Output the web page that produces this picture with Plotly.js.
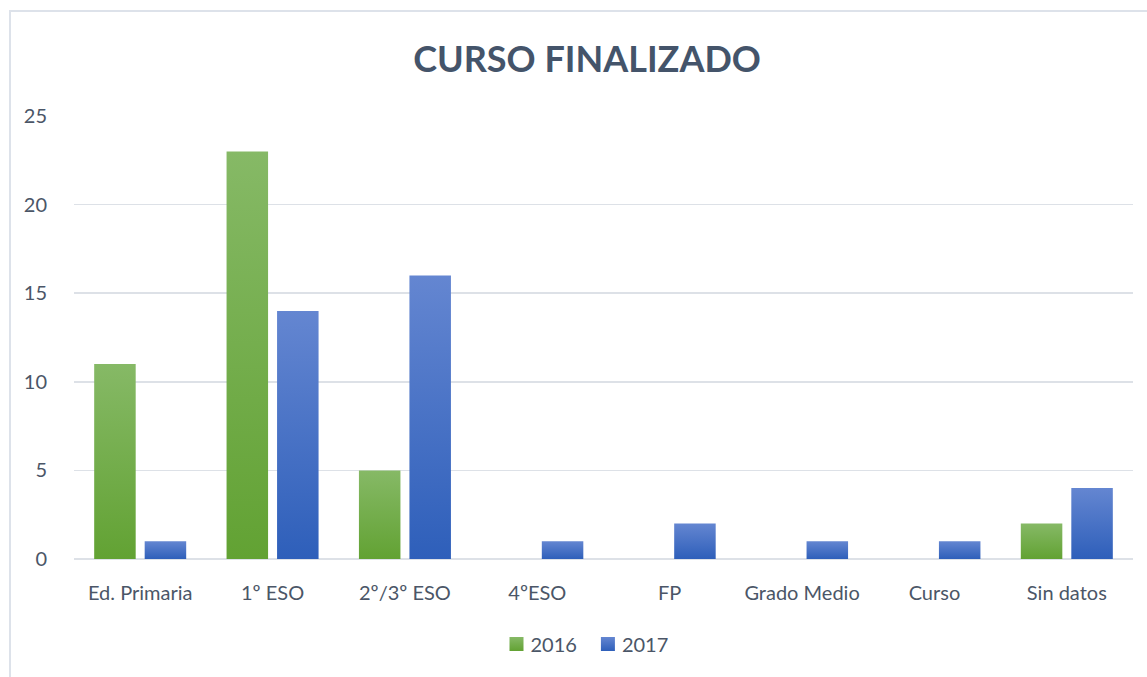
<!DOCTYPE html>
<html>
<head>
<meta charset="utf-8">
<script src="https://cdn.plot.ly/plotly-3.0.1.min.js"></script>
<style>
html,body{margin:0;padding:0;background:#fff;}
#chart{width:1147px;height:677px;}
</style>
</head>
<body>
<div id="chart"></div>
<script>
const categories = ["Ed. Primaria", "1º ESO", "2º/3º ESO", "4ºESO", "FP", "Grado Medio", "Curso", "Sin datos"];
const values2016 = [11, 23, 5, 0, 0, 0, 0, 2];
const values2017 = [1, 14, 16, 1, 2, 1, 1, 4];
const seriesNames = ["2016", "2017"];
const yTicks = [0, 5, 10, 15, 20, 25];

const W = 1147, H = 677;
const L = 74, R = 14, T = 116, B = 118;
const pw = W - L - R, ph = H - T - B;
const px = x => (x - L) / pw;
const py = y => (H - B - y) / ph;

const labelFont = {family: "Lato, Open Sans, sans-serif", size: 20, color: "#4B5667"};

const traces = [
  {type: "bar", name: seriesNames[0], x: categories, y: values2016, marker: {color: "#70AD47"}, hoverinfo: "x+y"},
  {type: "bar", name: seriesNames[1], x: categories, y: values2017, marker: {color: "#4472C4"}, hoverinfo: "x+y"}
];

const layout = {
  width: W, height: H,
  margin: {l: L, r: R, t: T, b: B, pad: 0},
  paper_bgcolor: "#ffffff",
  plot_bgcolor: "#ffffff",
  barmode: "group",
  bargap: 0.237,
  bargroupgap: 0.178,
  title: {
    text: "<b>CURSO FINALIZADO</b>",
    font: {family: "Lato, Open Sans, sans-serif", size: 36, color: "#44546A"},
    x: (587 - L) / pw, xanchor: "center", xref: "paper",
    y: 1 - 59 / H, yanchor: "middle"
  },
  xaxis: {
    type: "category",
    showgrid: false,
    showline: false,
    zeroline: false,
    ticks: "outside", ticklen: 16, tickcolor: "rgba(0,0,0,0)",
    tickfont: labelFont,
    fixedrange: true
  },
  yaxis: {
    range: [0, 25],
    tickvals: yTicks,
    ticktext: yTicks.map(String),
    showgrid: true,
    gridcolor: "#DDE1E7",
    gridwidth: 1.5,
    zeroline: true,
    zerolinecolor: "#DDE1E7",
    zerolinewidth: 1.5,
    showline: false,
    ticks: "outside", ticklen: 22, tickcolor: "rgba(0,0,0,0)",
    tickfont: labelFont,
    fixedrange: true
  },
  legend: {
    orientation: "h",
    x: px(588), xanchor: "center",
    y: py(644), yanchor: "middle",
    font: labelFont,
    itemwidth: 30,
    traceorder: "normal"
  },
  shapes: [
    {type: "rect", xref: "paper", yref: "paper", layer: "below",
     x0: px(10), x1: px(1160), y0: py(690), y1: py(11),
     line: {color: "#DDE2EA", width: 2}, fillcolor: "rgba(0,0,0,0)"}
  ],
  showlegend: true
};

Plotly.newPlot("chart", traces, layout, {displayModeBar: false, staticPlot: true}).then(gd => {
  const svg = gd.querySelector("svg.main-svg");
  const ns = "http://www.w3.org/2000/svg";
  let defs = svg.querySelector("defs");
  if (!defs) { defs = document.createElementNS(ns, "defs"); svg.insertBefore(defs, svg.firstChild); }
  const grads = [
    {id: "grad2016", top: "#86B966", bottom: "#62A233"},
    {id: "grad2017", top: "#6486D1", bottom: "#2E5FBA"}
  ];
  grads.forEach(g => {
    const lg = document.createElementNS(ns, "linearGradient");
    lg.setAttribute("id", g.id);
    lg.setAttribute("x1", "0"); lg.setAttribute("y1", "0");
    lg.setAttribute("x2", "0"); lg.setAttribute("y2", "1");
    const s1 = document.createElementNS(ns, "stop");
    s1.setAttribute("offset", "0"); s1.setAttribute("stop-color", g.top);
    const s2 = document.createElementNS(ns, "stop");
    s2.setAttribute("offset", "1"); s2.setAttribute("stop-color", g.bottom);
    lg.appendChild(s1); lg.appendChild(s2);
    defs.appendChild(lg);
  });
  const barTraces = gd.querySelectorAll(".barlayer .trace");
  barTraces.forEach((t, i) => {
    t.querySelectorAll("path").forEach(p => { p.style.fill = "url(#" + grads[i].id + ")"; });
  });
  const legTraces = gd.querySelectorAll(".legend .traces");
  legTraces.forEach((t, i) => {
    t.querySelectorAll(".legendpoints path").forEach(p => {
      p.style.fill = "url(#" + grads[i].id + ")";
      p.setAttribute("d", "M7,7H-7V-7H7Z");
    });
    t.querySelectorAll("text.legendtext").forEach(tx => {
      const x0 = parseFloat(tx.getAttribute("x")) || 0;
      tx.setAttribute("x", x0 - 6);
    });
  });
});
</script>
</body>
</html>
